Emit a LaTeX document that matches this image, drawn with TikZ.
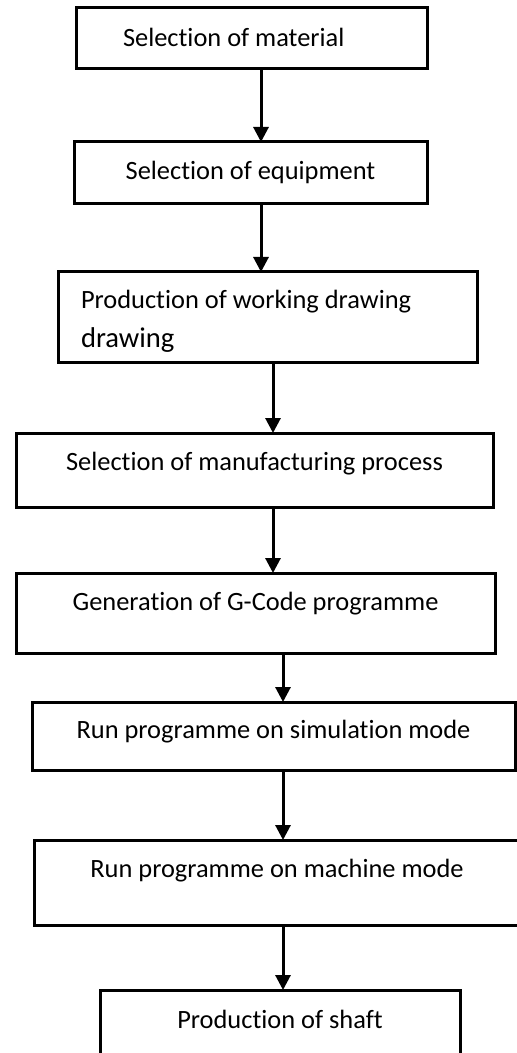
\documentclass[tikz,border=0pt]{standalone}
\usepackage{fontspec}
\setmainfont{Carlito}[Ligatures=NoCommon]
\usetikzlibrary{positioning, arrows.meta}

\begin{document}
\begin{tikzpicture}[
    >={Triangle[width=7.5pt, length=7.5pt]},
    line width=1.5pt,
    font=\fontsize{13.2}{19.5}\selectfont,
    stepbox/.style={
        draw,
        align=center,
        inner sep=0pt,
        outer sep=0pt
    },
    flow/.style={->, line width=1.5pt}
]

\useasboundingbox (0,0) rectangle (258pt,-526.5pt);

\node[stepbox, anchor=north, minimum width=175.5pt, text height=19.5pt, text depth=11pt,
      text width=152.5pt, inner xsep=11.5pt, align=left] (A1) at (125.75pt,-4pt)
      {\spaceskip=0pt\xspaceskip=0pt\hspace*{12pt}Selection of material};
\node[stepbox, below=36.5pt of A1, xshift=-0.5pt, minimum width=176.5pt, text height=19pt, text depth=12pt] (A2)
      {Selection of equipment};
\node[stepbox, below=34pt of A2, xshift=8.5pt, text width=186.5pt, inner xsep=11.5pt, align=left,
      text height=18pt, text depth=27pt] (A3)
      {\spaceskip=0pt\xspaceskip=0pt Production of working drawing\\{\fontsize{14.3}{19.5}\selectfont drawing}};
\node[stepbox, below=35.5pt of A3, xshift=-6.5pt, minimum width=238.5pt, text height=18.5pt, text depth=18.5pt] (A4)
      {Selection of manufacturing process};
\node[stepbox, below=33pt of A4, xshift=0.5pt, minimum width=239.5pt, text height=18.5pt, text depth=21.5pt] (A5)
      {Generation of G-Code programme};
\node[stepbox, below=24.5pt of A5, xshift=9pt, minimum width=241.5pt, text height=18pt, text depth=16pt] (A6)
      {Run programme on simulation mode};
\node[stepbox, below=35pt of A6, xshift=1.75pt, minimum width=243pt, text height=18.5pt, text depth=24pt] (A7)
      {Run programme on machine mode};
\node[stepbox, below=32.5pt of A7, xshift=1.5pt, minimum width=180pt, text height=19pt, text depth=18.5pt] (A8)
      {Production of shaft};

\coordinate (L1) at (130.5pt,0);
\coordinate (L2) at (136.5pt,0);
\coordinate (L3) at (141.5pt,0);

\draw[flow] (A1.south -| L1) -- (A2.north -| L1);
\draw[flow] (A2.south -| L1) -- (A3.north -| L1);
\draw[flow] (A3.south -| L2) -- (A4.north -| L2);
\draw[flow] (A4.south -| L2) -- (A5.north -| L2);
\draw[flow] (A5.south -| L3) -- (A6.north -| L3);
\draw[flow] (A6.south -| L3) -- (A7.north -| L3);
\draw[flow] (A7.south -| L3) -- (A8.north -| L3);

\end{tikzpicture}
\end{document}
